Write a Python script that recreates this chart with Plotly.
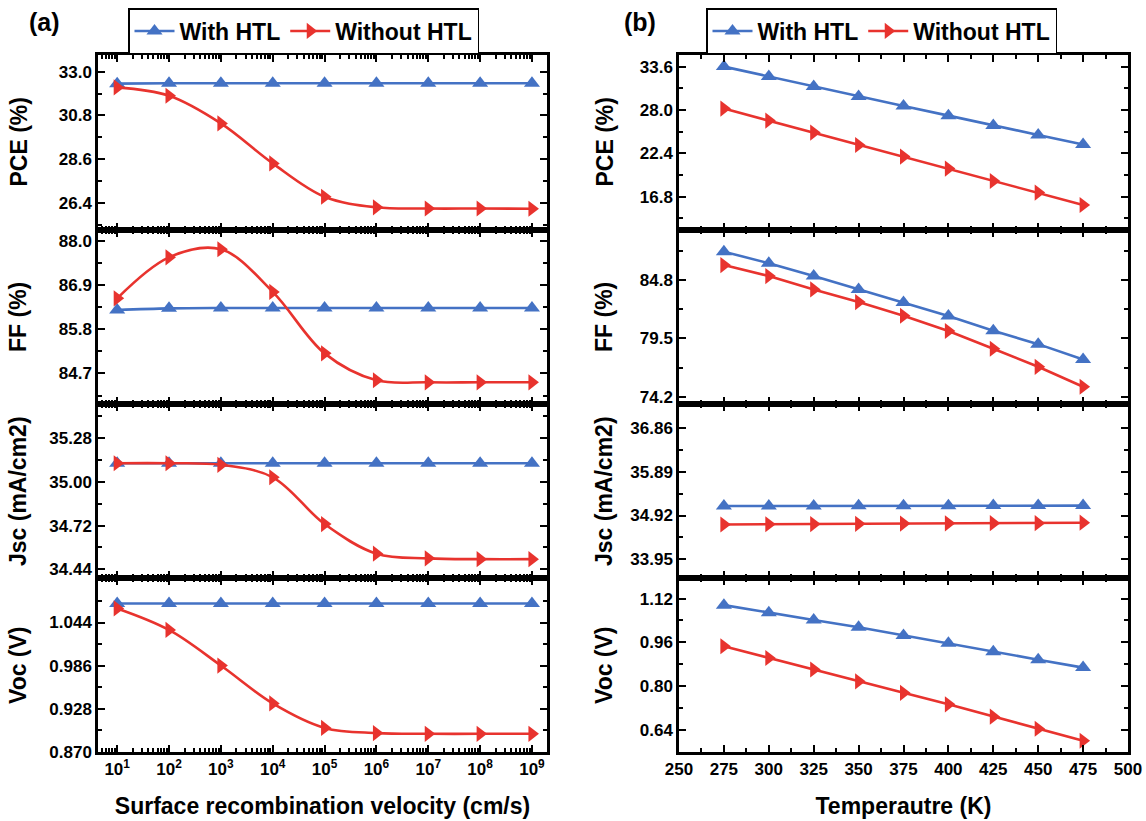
import plotly.graph_objects as go

# ---------------- data ----------------
srv = [1e1, 1e2, 1e3, 1e4, 1e5, 1e6, 1e7, 1e8, 1e9]
srv_ticktext = ["10<sup>1</sup>", "10<sup>2</sup>", "10<sup>3</sup>", "10<sup>4</sup>", "10<sup>5</sup>",
                "10<sup>6</sup>", "10<sup>7</sup>", "10<sup>8</sup>", "10<sup>9</sup>"]
temp = [275, 300, 325, 350, 375, 400, 425, 450, 475]
temp_ticks = [250, 275, 300, 325, 350, 375, 400, 425, 450, 475, 500]

pce_srv_with = [32.40, 32.42, 32.42, 32.42, 32.42, 32.42, 32.42, 32.42, 32.42]
pce_srv_without = [32.21, 31.79, 30.40, 28.39, 26.71, 26.18, 26.12, 26.12, 26.11]
ff_srv_with = [86.28, 86.32, 86.33, 86.33, 86.33, 86.33, 86.33, 86.33, 86.33]
ff_srv_without = [86.57, 87.59, 87.79, 86.73, 85.20, 84.53, 84.48, 84.48, 84.48]
jsc_srv_with = [35.12, 35.12, 35.12, 35.12, 35.12, 35.12, 35.12, 35.12, 35.12]
jsc_srv_without = [35.12, 35.12, 35.11, 35.03, 34.73, 34.54, 34.51, 34.505, 34.505]
voc_srv_with = [1.0696, 1.0696, 1.0696, 1.0696, 1.0696, 1.0696, 1.0696, 1.0696, 1.0696]
voc_srv_without = [1.063, 1.034, 0.986, 0.935, 0.902, 0.895, 0.894, 0.894, 0.894]

pce_t_with = [33.60, 32.31, 31.02, 29.73, 28.52, 27.27, 25.98, 24.78, 23.53]
pce_t_without = [28.18, 26.63, 25.08, 23.48, 21.98, 20.43, 18.83, 17.33, 15.73]
ff_t_with = [87.38, 86.33, 85.16, 83.95, 82.77, 81.53, 80.19, 78.98, 77.59]
ff_t_without = [86.16, 85.16, 83.95, 82.80, 81.56, 80.17, 78.56, 76.92, 75.11]
jsc_t_with = [35.13, 35.13, 35.13, 35.135, 35.135, 35.135, 35.14, 35.14, 35.14]
jsc_t_without = [34.72, 34.725, 34.73, 34.735, 34.74, 34.745, 34.75, 34.75, 34.76]
voc_t_with = [1.096, 1.068, 1.042, 1.015, 0.985, 0.957, 0.926, 0.897, 0.868]
voc_t_without = [0.946, 0.903, 0.861, 0.818, 0.776, 0.734, 0.689, 0.645, 0.601]

series_names = ["With HTL", "Without HTL"]
ytitles = ["PCE (%)", "FF (%)", "Jsc (mA/cm2)", "Voc (V)"]

left_ticks = [[26.4, 28.6, 30.8, 33.0], [84.7, 85.8, 86.9, 88.0],
              [34.44, 34.72, 35.00, 35.28], [0.870, 0.928, 0.986, 1.044]]
left_fmt = [".1f", ".1f", ".2f", ".3f"]
left_ranges = [[25.04, 33.84], [83.94, 88.27], [34.384, 35.50], [0.8695, 1.104]]
left_minor = [1.1, 0.55, 0.14, 0.029]

right_ticks = [[16.8, 22.4, 28.0, 33.6], [74.2, 79.5, 84.8],
               [33.95, 34.92, 35.89, 36.86], [0.64, 0.80, 0.96, 1.12]]
right_fmt = [".1f", ".1f", ".2f", ".2f"]
right_ranges = [[12.5, 35.1], [73.54, 89.35], [33.53, 37.40], [0.56, 1.195]]
right_minor = [2.8, 2.65, 0.485, 0.08]

# ---------------- style ----------------
W, H = 1146, 821
BLUE = "#4472C4"
RED = "#E8332E"
FONT = "Liberation Sans, Arial, sans-serif"

xl = [98 / W, 547 / W]
xr = [679 / W, 1128 / W]
bounds = [55, 230, 404, 578, 752]
ydoms = [[1 - bounds[i + 1] / H, 1 - bounds[i] / H] for i in range(4)]

fig = go.Figure()

left_data = [(pce_srv_with, pce_srv_without), (ff_srv_with, ff_srv_without),
             (jsc_srv_with, jsc_srv_without), (voc_srv_with, voc_srv_without)]
right_data = [(pce_t_with, pce_t_without), (ff_t_with, ff_t_without),
              (jsc_t_with, jsc_t_without), (voc_t_with, voc_t_without)]

def add_pair(xvals, pair, idx, shape, legend_name, show):
    ax = "" if idx == 1 else str(idx)
    fig.add_trace(go.Scatter(
        x=xvals, y=pair[0], mode="lines+markers", name=series_names[0],
        line=dict(color=BLUE, width=2.6, shape=shape),
        marker=dict(symbol="triangle-up", size=14, color=BLUE),
        xaxis="x" + ax, yaxis="y" + ax, legend=legend_name, showlegend=show))
    fig.add_trace(go.Scatter(
        x=xvals, y=pair[1], mode="lines+markers", name=series_names[1],
        line=dict(color=RED, width=2.6, shape=shape),
        marker=dict(symbol="triangle-right", size=14, color=RED),
        xaxis="x" + ax, yaxis="y" + ax, legend=legend_name, showlegend=show))

for i in range(4):
    add_pair(srv, left_data[i], i + 1, "spline", "legend", i == 0)
for i in range(4):
    add_pair(temp, right_data[i], i + 5, "linear", "legend2", i == 0)

tickfont = dict(family=FONT, size=17, color="black", weight="bold")
axis_common = dict(showline=True, linecolor="black", linewidth=2.5, mirror="ticks",
                   ticks="inside", ticklen=7, tickwidth=2, tickcolor="black",
                   showgrid=False, zeroline=False, tickfont=tickfont, automargin=False)

layout = dict(width=W, height=H, margin=dict(l=0, r=0, t=0, b=0, autoexpand=False),
              paper_bgcolor="white", plot_bgcolor="white", showlegend=True)

for i in range(4):
    # left column
    n = i + 1
    ax = "" if n == 1 else str(n)
    layout["xaxis" + ax] = dict(axis_common, type="log", domain=xl, anchor="y" + ax,
                                range=[0.63, 9.29], tickmode="array", tickvals=srv,
                                ticktext=srv_ticktext, showticklabels=(i == 3),
                                minor=dict(ticks="inside", ticklen=4, tickwidth=2,
                                           tickcolor="black", dtick="D1", showgrid=False))
    layout["yaxis" + ax] = dict(axis_common, domain=ydoms[i], anchor="x" + ax,
                                range=left_ranges[i], tickmode="array",
                                tickvals=left_ticks[i], tickformat=left_fmt[i],
                                minor=dict(ticks="inside", ticklen=4, tickwidth=2, tickcolor="black",
                                           tick0=left_ticks[i][0], dtick=left_minor[i], showgrid=False))
    # right column
    n = i + 5
    ax = str(n)
    layout["xaxis" + ax] = dict(axis_common, domain=xr, anchor="y" + ax,
                                range=[250, 500], tickmode="array", tickvals=temp_ticks,
                                showticklabels=(i == 3),
                                minor=dict(ticks="inside", ticklen=4, tickwidth=2,
                                           tickcolor="black", tick0=250, dtick=12.5, showgrid=False))
    layout["yaxis" + ax] = dict(axis_common, domain=ydoms[i], anchor="x" + ax,
                                range=right_ranges[i], tickmode="array",
                                tickvals=right_ticks[i], tickformat=right_fmt[i],
                                minor=dict(ticks="inside", ticklen=4, tickwidth=2, tickcolor="black",
                                           tick0=right_ticks[i][0], dtick=right_minor[i], showgrid=False))

titlefont = dict(family=FONT, size=23, color="black", weight="bold")
layout["xaxis4"]["title"] = dict(text="Surface recombination velocity (cm/s)", font=titlefont, standoff=20)
layout["xaxis8"]["title"] = dict(text="Temperautre (K)", font=titlefont, standoff=20)

legfont = dict(family=FONT, size=23, color="black", weight="bold")
layout["legend"] = dict(orientation="h", x=128 / W, xanchor="left", y=1 - 8 / H, yanchor="top",
                        bordercolor="black", borderwidth=1.5, bgcolor="white", font=legfont,
                        tracegroupgap=0, itemwidth=40)
layout["legend2"] = dict(orientation="h", x=706 / W, xanchor="left", y=1 - 8 / H, yanchor="top",
                         bordercolor="black", borderwidth=1.5, bgcolor="white", font=legfont,
                         tracegroupgap=0, itemwidth=40)

annotations = []
for i in range(4):
    yc = (ydoms[i][0] + ydoms[i][1]) / 2
    for xc in (18 / W, 604 / W):
        annotations.append(dict(text=ytitles[i], x=xc, y=yc, xref="paper", yref="paper",
                                textangle=-90, showarrow=False, font=titlefont,
                                xanchor="center", yanchor="middle"))
annotations.append(dict(text="(a)", x=44 / W, y=1 - 22 / H, xref="paper", yref="paper",
                        xanchor="center", yanchor="middle", showarrow=False,
                        font=dict(family=FONT, size=25, color="black", weight="bold")))
annotations.append(dict(text="(b)", x=640 / W, y=1 - 22 / H, xref="paper", yref="paper",
                        xanchor="center", yanchor="middle", showarrow=False,
                        font=dict(family=FONT, size=25, color="black", weight="bold")))
layout["annotations"] = annotations

fig.update_layout(**layout)
fig.write_html("out.html")
